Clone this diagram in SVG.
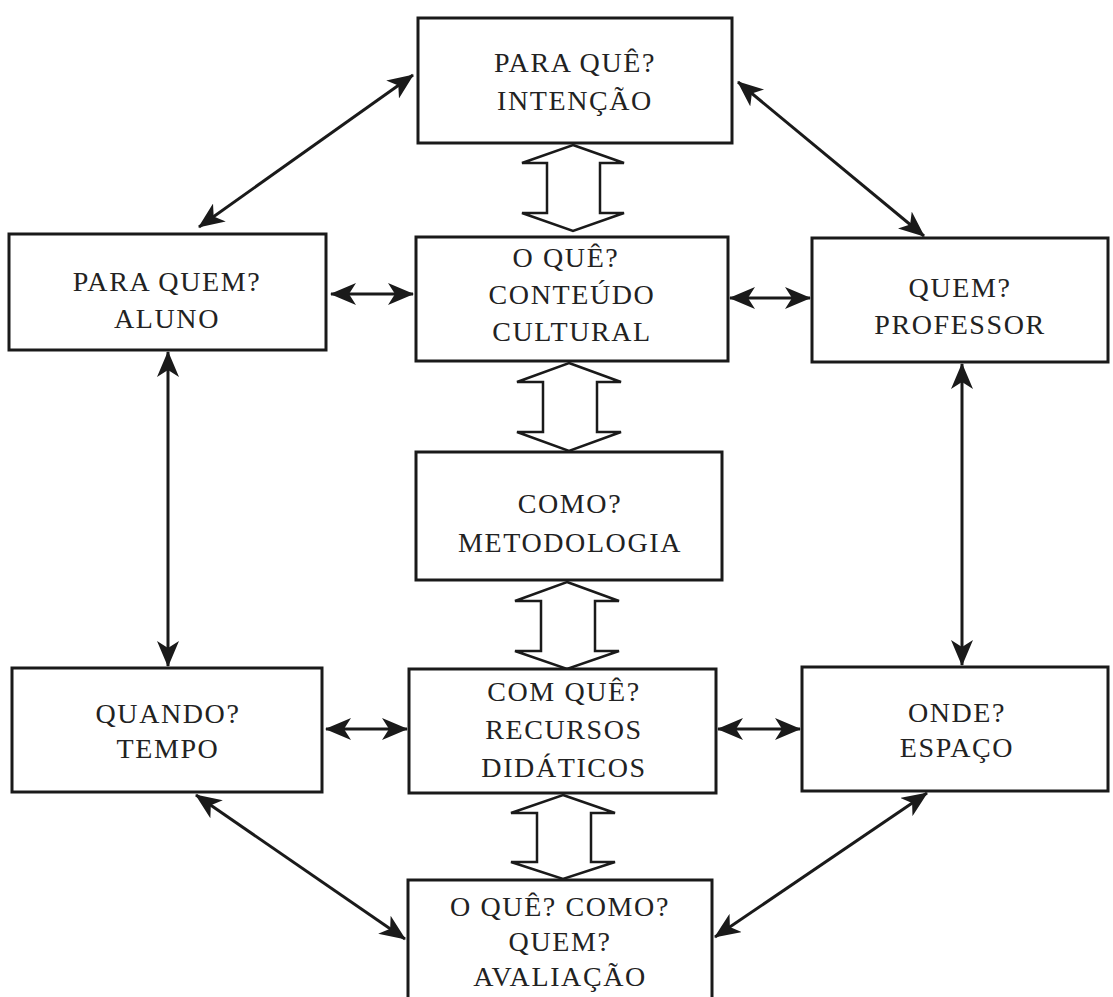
<svg xmlns="http://www.w3.org/2000/svg" width="1113" height="997" viewBox="0 0 1113 997">
<style>
.box{fill:#fff;stroke:#1a1a1a;stroke-width:3}
.t{font-family:"Liberation Serif","Times New Roman",serif;font-size:28px;letter-spacing:1.6px;fill:#222;text-anchor:middle}
.c{fill:none;stroke:#1a1a1a;stroke-width:3}
.h{fill:#fff;stroke:#1a1a1a;stroke-width:2.5;stroke-linejoin:miter}
</style>
<defs>
<marker id="ah" viewBox="0 0 26 22" refX="25" refY="11" markerWidth="26" markerHeight="22" markerUnits="userSpaceOnUse" orient="auto-start-reverse">
<path d="M0,0 L26,11 L0,22 L7,11 Z" fill="#1a1a1a"/>
</marker>
</defs>
<rect width="1113" height="997" fill="#fff"/>
<g id="connectors">
<line class="c" x1="413" y1="75" x2="199" y2="227" marker-start="url(#ah)" marker-end="url(#ah)"/>
<line class="c" x1="738" y1="82" x2="924" y2="236" marker-start="url(#ah)" marker-end="url(#ah)"/>
<line class="c" x1="196" y1="795" x2="405" y2="939" marker-start="url(#ah)" marker-end="url(#ah)"/>
<line class="c" x1="927" y1="793" x2="715" y2="937" marker-start="url(#ah)" marker-end="url(#ah)"/>
<line class="c" x1="331" y1="294" x2="413" y2="294" marker-start="url(#ah)" marker-end="url(#ah)"/>
<line class="c" x1="730" y1="298" x2="810" y2="298" marker-start="url(#ah)" marker-end="url(#ah)"/>
<line class="c" x1="326" y1="729" x2="407" y2="729" marker-start="url(#ah)" marker-end="url(#ah)"/>
<line class="c" x1="718" y1="729" x2="800" y2="729" marker-start="url(#ah)" marker-end="url(#ah)"/>
<line class="c" x1="168" y1="352" x2="168" y2="666" marker-start="url(#ah)" marker-end="url(#ah)"/>
<line class="c" x1="962" y1="364" x2="962" y2="665" marker-start="url(#ah)" marker-end="url(#ah)"/>
<path class="h" d="M573,145 L624,163 L600,163 L600,213 L624,213 L573,231 L522,213 L547,213 L547,163 L522,163 Z"/>
<path class="h" d="M569,363 L621,382 L597,382 L597,432 L621,432 L569,451 L517,432 L543,432 L543,382 L517,382 Z"/>
<path class="h" d="M567,582 L619,601 L595,601 L595,651 L619,651 L567,669 L515,651 L541,651 L541,601 L515,601 Z"/>
<path class="h" d="M563,795 L615,813 L591,813 L591,862 L615,862 L563,879 L511,862 L537,862 L537,813 L511,813 Z"/>
</g>
<g id="n-intencao">
<rect class="box" x="418" y="18" width="314" height="125"/>
<text class="t" x="575" y="72">PARA QUÊ?</text>
<text class="t" x="575" y="110">INTENÇÃO</text>
</g>
<g id="n-aluno">
<rect class="box" x="9" y="234" width="317" height="116"/>
<text class="t" x="167" y="291">PARA QUEM?</text>
<text class="t" x="167" y="328">ALUNO</text>
</g>
<g id="n-conteudo">
<rect class="box" x="416" y="237" width="312" height="124"/>
<text class="t" x="566" y="267">O QUÊ?</text>
<text class="t" x="572" y="304">CONTEÚDO</text>
<text class="t" x="572" y="341">CULTURAL</text>
</g>
<g id="n-professor">
<rect class="box" x="812" y="238" width="296" height="124"/>
<text class="t" x="960" y="297">QUEM?</text>
<text class="t" x="960" y="334">PROFESSOR</text>
</g>
<g id="n-metodologia">
<rect class="box" x="416" y="452" width="306" height="128"/>
<text class="t" x="570" y="513">COMO?</text>
<text class="t" x="570" y="552">METODOLOGIA</text>
</g>
<g id="n-tempo">
<rect class="box" x="12" y="668" width="310" height="124"/>
<text class="t" x="168" y="723">QUANDO?</text>
<text class="t" x="168" y="758">TEMPO</text>
</g>
<g id="n-recursos">
<rect class="box" x="409" y="669" width="307" height="124"/>
<text class="t" x="564" y="701">COM QUÊ?</text>
<text class="t" x="564" y="739">RECURSOS</text>
<text class="t" x="564" y="777">DIDÁTICOS</text>
</g>
<g id="n-espaco">
<rect class="box" x="802" y="667" width="306" height="124"/>
<text class="t" x="957" y="722">ONDE?</text>
<text class="t" x="957" y="757">ESPAÇO</text>
</g>
<g id="n-avaliacao">
<rect class="box" x="408" y="880" width="304" height="125"/>
<text class="t" x="560" y="916">O QUÊ? COMO?</text>
<text class="t" x="560" y="951">QUEM?</text>
<text class="t" x="560" y="986">AVALIAÇÃO</text>
</g>
</svg>
